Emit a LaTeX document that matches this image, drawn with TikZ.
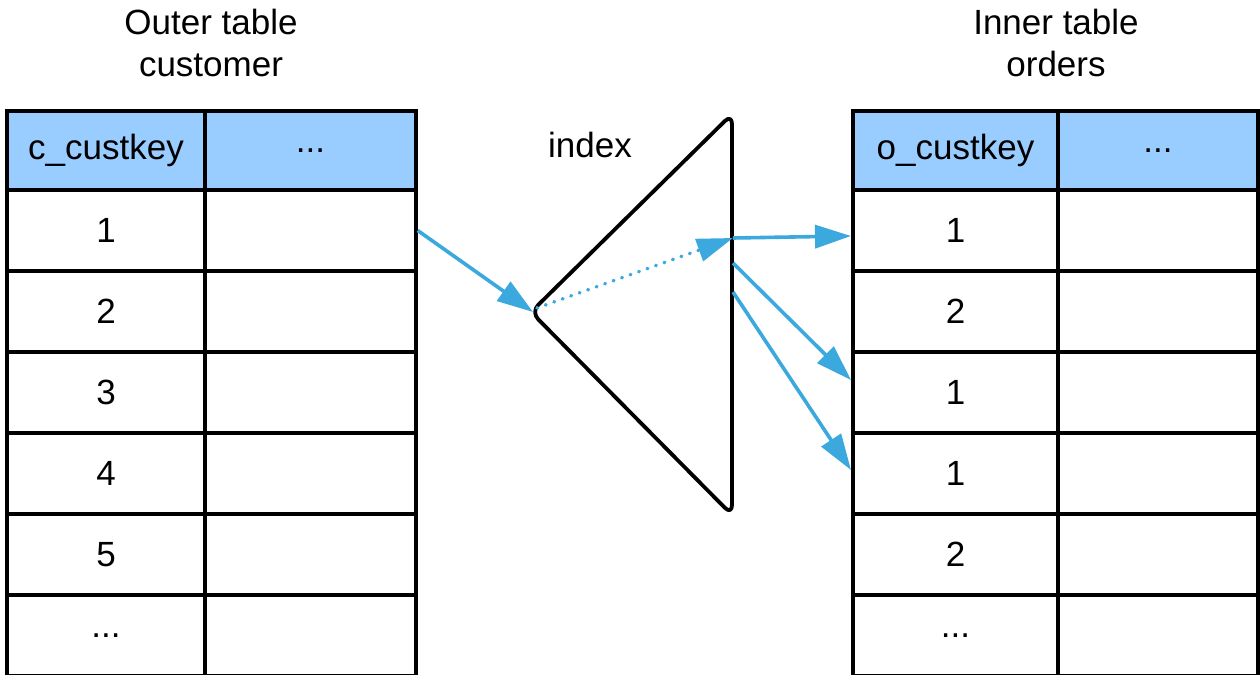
\documentclass[tikz,border=0pt]{standalone}
\usepackage{fontspec}
\setmainfont{Liberation Sans}
\usetikzlibrary{arrows.meta,calc}
\definecolor{hdr}{HTML}{99CCFF}
\definecolor{arr}{RGB}{59,168,222}
\begin{document}
\begin{tikzpicture}[x=0.5pt,y=-0.5pt,
  every node/.style={font=\fontsize{17.5}{21}\selectfont},
  cell/.style={draw=black,line width=1.7pt,rectangle,inner sep=0pt,minimum height=40.5pt},
  hcell/.style={cell,fill=hdr,minimum height=39.5pt},
  lca/.style={minimum width=99pt},
  lcb/.style={minimum width=105.5pt},
  rca/.style={minimum width=102.5pt},
  rcb/.style={minimum width=100pt},
  title/.style={align=center,inner sep=0pt},
  flow/.style={draw=arr,line width=1.8pt,-{Triangle[length=18pt,width=11.5pt]}},
  dotflow/.style={flow,line width=1.8pt,dash pattern=on 0.3pt off 4.2pt,line cap=round},
  tri/.style={draw=black,line width=1.9pt,rounded corners=5pt,line join=round}
]
\useasboundingbox (0,0) rectangle (1260,675);
\fill[white] (0,0) rectangle (1260,675);
% titles
\node[title] (tl) at (211,43) {Outer table\\customer};
\node[title] (tr) at (1056,43) {Inner table\\orders};
\node[inner sep=0pt] (idx) at (590,145) {index};
% left table
\node[hcell,lca] (L0a) at (106,150.5) {c\_custkey};
\node[hcell,lcb] (L0b) at (310.5,150.5) {...};
\node[cell,lca] (L1a) at (106,230.5) {1};
\node[cell,lcb] (L1b) at (310.5,230.5) {};
\node[cell,lca] (L2a) at (106,311.5) {2};
\node[cell,lcb] (L2b) at (310.5,311.5) {};
\node[cell,lca] (L3a) at (106,392.5) {3};
\node[cell,lcb] (L3b) at (310.5,392.5) {};
\node[cell,lca] (L4a) at (106,473.5) {4};
\node[cell,lcb] (L4b) at (310.5,473.5) {};
\node[cell,lca] (L5a) at (106,554.5) {5};
\node[cell,lcb] (L5b) at (310.5,554.5) {};
\node[cell,lca] (L6a) at (106,635.5) {...};
\node[cell,lcb] (L6b) at (310.5,635.5) {};
% right table
\node[hcell,rca] (R0a) at (955.5,150.5) {o\_custkey};
\node[hcell,rcb] (R0b) at (1158,150.5) {...};
\node[cell,rca] (R1a) at (955.5,230.5) {1};
\node[cell,rcb] (R1b) at (1158,230.5) {};
\node[cell,rca] (R2a) at (955.5,311.5) {2};
\node[cell,rcb] (R2b) at (1158,311.5) {};
\node[cell,rca] (R3a) at (955.5,392.5) {1};
\node[cell,rcb] (R3b) at (1158,392.5) {};
\node[cell,rca] (R4a) at (955.5,473.5) {1};
\node[cell,rcb] (R4b) at (1158,473.5) {};
\node[cell,rca] (R5a) at (955.5,554.5) {2};
\node[cell,rcb] (R5b) at (1158,554.5) {};
\node[cell,rca] (R6a) at (955.5,635.5) {...};
\node[cell,rcb] (R6b) at (1158,635.5) {};
% index triangle
\coordinate (apex) at (531,312);
\coordinate (ttop) at (732,114);
\coordinate (tbot) at (732,515);
\draw[tri] (apex) -- (ttop) -- (tbot) -- cycle;
% connector points
\coordinate (hit) at (733,238);
\coordinate (s2) at (733,263);
\coordinate (s3) at (733,292);
\coordinate (e1) at (851,236);
\coordinate (e2) at (851,380);
\coordinate (e3) at (851,470);
\coordinate (dstart) at (537,308);
\coordinate (tip1) at (533,312);
% connectors
\draw[flow] (L1b.east) -- (tip1);
\draw[dotflow] (dstart) -- (hit);
\draw[flow] (hit) -- (e1);
\draw[flow] (s2) -- (e2);
\draw[flow] (s3) -- (e3);
\end{tikzpicture}
\end{document}
